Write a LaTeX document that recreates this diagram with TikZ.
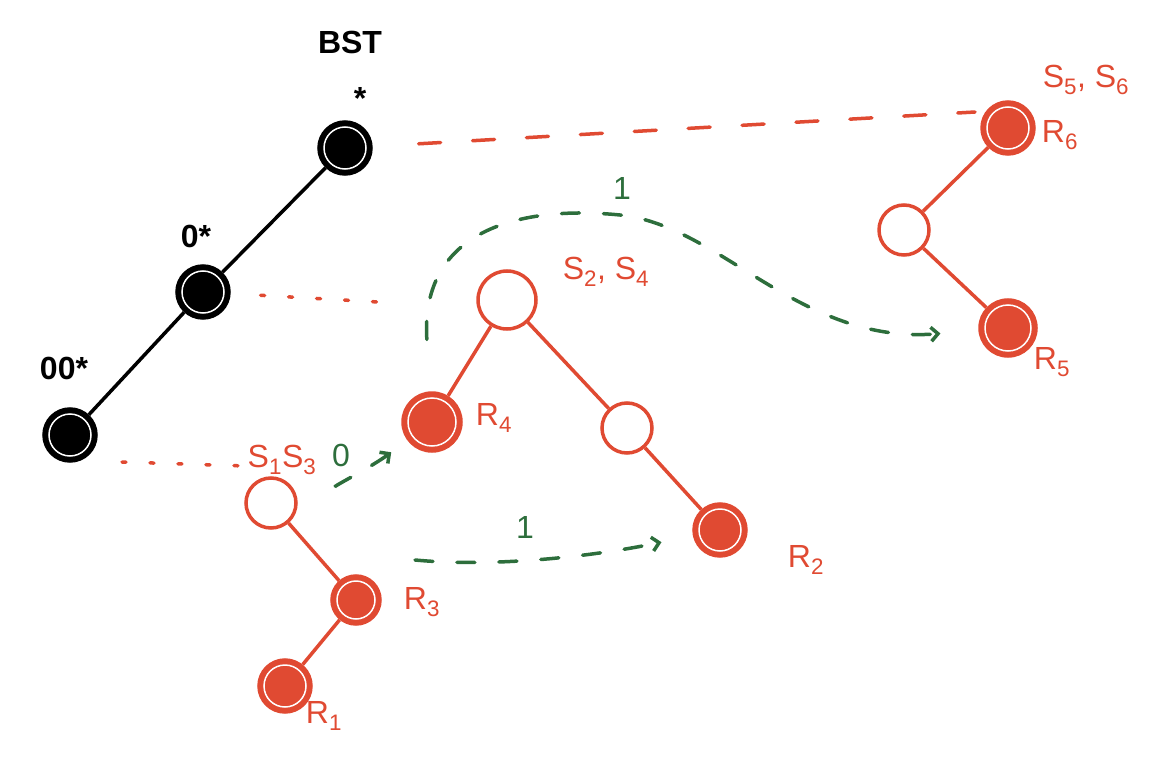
\documentclass[tikz,border=0pt]{standalone}
\usepackage{fontspec}
\setmainfont{Liberation Sans}
\usetikzlibrary{arrows.meta,calc}
\definecolor{rd}{HTML}{E04A32}
\definecolor{gn}{HTML}{2D6E3C}
\begin{document}
\begin{tikzpicture}[x=1pt,y=-1pt,
  bnode/.style={circle,draw=black,fill=black,line width=3.5pt,minimum size=52pt,inner sep=0pt},
  rhollow/.style={circle,draw=rd,fill=white,line width=3.5pt,minimum size=50pt,inner sep=0pt},
  rfull/.style={circle,draw=rd,fill=rd,line width=3.5pt,minimum size=52pt,inner sep=0pt},
  ring/.style={draw=white,line width=1.5pt},
  bedge/.style={draw=black,line width=3.5pt},
  redge/.style={draw=rd,line width=3.5pt},
  rdash/.style={draw=rd,line width=3.5pt,line cap=round,dash pattern=on 22pt off 32pt},
  rdots/.style={draw=rd,line width=3.5pt,line cap=round,dash pattern=on 4pt off 24pt},
  gdash/.style={draw=gn,line width=3.5pt,line cap=round,dash pattern=on 18pt off 24pt,-{Straight Barb[length=7pt,width=14pt]}},
  blab/.style={font=\fontsize{32}{32}\selectfont\bfseries,text=black},
  rlab/.style={font=\fontsize{32}{32}\selectfont,text=rd},
  glab/.style={font=\fontsize{32}{32}\selectfont,text=gn}]
\useasboundingbox (0,0) rectangle (1162,765);
% black chain
\node[bnode] (B1) at (345,148) {};
\node[bnode] (B2) at (203,292) {};
\node[bnode] (B3) at (70,435) {};
\draw[bedge] (B1) -- (B2) -- (B3);
\foreach \n in {B1,B2,B3} \draw[ring] (\n) circle (21pt);
\node[blab] (lbst) at (350,42) {BST};
\node[blab] (lb1) at (360,98) {*};
\node[blab] (lb2) at (196,236) {0*};
\node[blab] (lb3) at (64,368) {00*};
% tree S2,S4
\node[rhollow,minimum size=58pt] (T2) at (507,300) {};
\node[rfull,minimum size=58pt] (R4) at (432,422) {};
\node[rhollow] (T2r) at (627,428) {};
\node[rfull] (R2) at (720,530) {};
\draw[redge] (T2) -- (R4);
\draw[redge] (T2) -- (T2r) -- (R2);
% tree S1 S3
\node[rhollow] (T1) at (271,503) {};
\node[rfull,minimum size=48pt] (R3) at (356,600) {};
\node[rfull] (R1) at (285,686) {};
\draw[redge] (T1) -- (R3) -- (R1);
% tree S5,S6
\node[rfull] (R6) at (1008,128) {};
\node[rhollow] (T3) at (904,230) {};
\node[rfull,minimum size=56pt] (R5) at (1008,328) {};
\draw[redge] (R6) -- (T3) -- (R5);
\draw[ring] (R4) circle (24pt);
\draw[ring] (R2) circle (21pt);
\draw[ring] (R3) circle (19pt);
\draw[ring] (R1) circle (21pt);
\draw[ring] (R6) circle (21pt);
\draw[ring] (R5) circle (23pt);
% red labels
\node[rlab] (l24) at (606,272) {S\textsubscript{2}, S\textsubscript{4}};
\node[rlab] (l56) at (1086,80) {S\textsubscript{5}, S\textsubscript{6}};
\node[rlab] (l6) at (1060,135) {R\textsubscript{6}};
\node[rlab] (l13) at (282,460) {S\textsubscript{1}S\textsubscript{3}};
\node[rlab] (l4) at (494,418) {R\textsubscript{4}};
\node[rlab] (l2) at (806,560) {R\textsubscript{2}};
\node[rlab] (l5) at (1052,362) {R\textsubscript{5}};
\node[rlab] (l3) at (422,602) {R\textsubscript{3}};
\node[rlab] (l1) at (324,716) {R\textsubscript{1}};
% red mapping lines
\coordinate (m1) at (975,112);
\coordinate (m2) at (378,302);
\coordinate (m3a) at (122,462);
\coordinate (m3) at (245,466);
\draw[rdash,shorten <=46pt] (B1) -- (m1);
\draw[rdots,shorten <=30pt] (B2) -- (m2);
\draw[rdots] (m3a) -- (m3);
% green arrows
\draw[gdash,shorten <=52pt,shorten >=38pt] (R4) .. controls (420,230) and (520,205) .. (620,215) .. controls (720,225) and (800,345) .. (R5);
\draw[gdash,shorten <=40pt,shorten >=20pt] (T1) .. controls (330,488) and (370,468) .. (R4);
\draw[gdash,shorten >=32pt] ($(R3)+(59,-40)$) coordinate (g3) .. controls (500,568) and (600,555) .. (R2);
\node[glab] (g1) at (622,188) {1};
\node[glab] (g0) at (341,455) {0};
\node[glab] (g2) at (525,527) {1};
\end{tikzpicture}
\end{document}
